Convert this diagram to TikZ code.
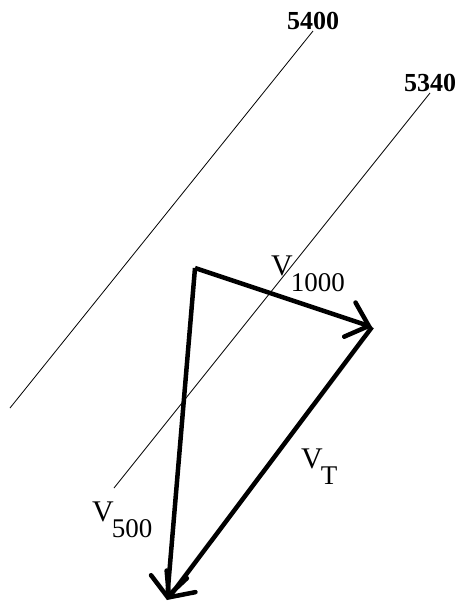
\documentclass[tikz,border=0pt]{standalone}
\usepackage{fontspec}
\setmainfont{Liberation Serif}
\usetikzlibrary{arrows.meta}
\newcommand{\vsub}[1]{V\kern-2pt\raisebox{-16pt}{\fontsize{27}{29}\selectfont #1}}

\begin{document}
\begin{tikzpicture}[x=1pt,y=-1pt,>={Straight Barb[length=20pt,width=36pt,line cap=round]}]
    \useasboundingbox (0,0) rectangle (464,604);
    \tikzset{contour/.style={line width=0.8pt},
             wind/.style={->,line width=4.5pt,line join=miter},
             heightlabel/.style={above,inner sep=1pt,font=\fontsize{26}{28}\selectfont\bfseries},
             vlabel/.style={anchor=base west,inner sep=0pt,font=\fontsize{30}{32}\selectfont}}

    % Height contours
    \coordinate (c5400top) at (313,31);
    \coordinate (c5400bot) at (10,408);
    \coordinate (c5340top) at (430,93);
    \coordinate (c5340bot) at (114,488);
    \draw[contour] (c5400bot) -- (c5400top) node[heightlabel] (h5400) {5400};
    \draw[contour] (c5340bot) -- (c5340top) node[heightlabel] (h5340) {5340};

    % Wind vectors
    \coordinate (tail) at (195,268);
    \coordinate (tip1000) at (372,327);
    \coordinate (tip500) at (167,600);
    \draw[wind] (tail) -- (tip1000);
    \draw[wind] (tail) -- (tip500);
    \draw[wind] (tip1000) -- (tip500);

    % Labels
    \node[vlabel] (l1000) at (271,275) {\vsub{1000}};
    \node[vlabel] (lT) at (301,468) {\vsub{T}};
    \node[vlabel] (l500) at (92,521) {\vsub{500}};
\end{tikzpicture}
\end{document}
